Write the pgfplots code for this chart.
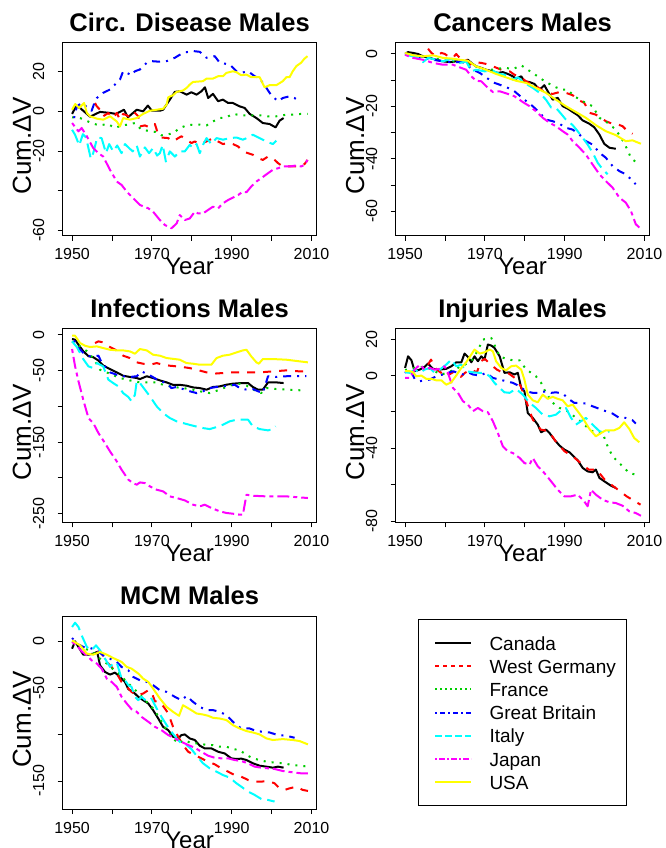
\documentclass[border=0pt]{standalone}
\usepackage{fontspec}
\setmainfont{Liberation Sans}
\usepackage{pgfplots}
\pgfplotsset{compat=1.18}
\definecolor{gthree}{RGB}{0,205,0}
\definecolor{rred}{RGB}{255,0,0}
\definecolor{rblue}{RGB}{0,0,255}
\definecolor{rcyan}{RGB}{0,255,255}
\definecolor{rmag}{RGB}{255,0,255}
\definecolor{ryel}{RGB}{255,255,0}
\newcommand\legimg[2]{%
 \pgfpathmoveto{\pgfpointorigin}\pgfpathlineto{\pgfpoint{43.3pt}{0pt}}\pgfusepath{discard}%
 \pgfsetstrokecolor{#1}\pgfsetlinewidth{2pt}\pgfsetdash{#2}{0pt}\pgfsetbuttcap
 \pgfpathmoveto{\pgfpoint{7.3pt}{-0.2pt}}\pgfpathlineto{\pgfpoint{43.3pt}{-0.2pt}}\pgfusepath{stroke}}
\pgfplotsset{
 can/.style={black, line width=2pt, solid},
 wg/.style={rred, line width=2pt, dash pattern=on 8pt off 8pt},
 fr/.style={gthree, line width=2pt, dash pattern=on 2pt off 6pt},
 gb/.style={rblue, line width=2pt, dash pattern=on 2pt off 6pt on 8pt off 6pt},
 it/.style={rcyan, line width=2pt, dash pattern=on 14pt off 6pt},
 jp/.style={rmag, line width=2pt, dash pattern=on 4pt off 4pt on 12pt off 4pt},
 us/.style={ryel, line width=2pt, solid},
 panel/.style={scale only axis, width=254.2pt,
  xmin=1947.6, xmax=2011.3,
  axis line style={line width=0.9pt},
  tick align=outside, tick pos=left, major tick length=5pt,
  tick style={black, line width=0.9pt},
  xtick={1950,1960,1970,1980,1990,2000,2010},
  xticklabels={1950,{},1970,{},1990,{},2010},
  xticklabel style={font=\fontsize{16}{16}\selectfont, anchor=base, yshift=-19pt},
  yticklabel style={font=\fontsize{16}{16}\selectfont, rotate=90, anchor=base, yshift=13.4pt},
  every axis title/.style={at={(axis description cs:0.5,1)}, anchor=base, yshift=11.3pt, font=\bfseries\fontsize{25.5}{25.5}\selectfont},
  every axis x label/.style={at={(axis description cs:0.5,0)}, anchor=base, yshift=-39pt, font=\fontsize{24}{24}\selectfont},
  every axis y label/.style={at={(axis description cs:0,0.465)}, rotate=90, anchor=base, yshift=31.5pt, font=\fontsize{26}{26}\selectfont},
  xlabel={Year}, ylabel={Cum.ΔV},
  every axis plot/.append style={line join=round},
 },
}
\begin{document}
\begin{tikzpicture}
\useasboundingbox (0,0) rectangle (666pt,848pt);
% ---------- Panel 1
\begin{axis}[panel, at={(62.5pt,612.3pt)}, anchor=south west, height=193pt,
 ymin=-62.7, ymax=34.6, ytick={-60,-40,-20,0,20}, yticklabels={-60,{},-20,0,20},
 title={Circ. Disease Males}]
\addplot[can] coordinates {(1950,-1.3)(1951,2.5)(1952,1.7)(1954.5,-2.7)(1957,-0.3)(1959.5,-0.8)(1961,-1.3)(1963,0.8)(1964,-3)(1966.2,0.8)(1967.8,0)(1969,2.9)(1970,0.3)(1972,0.3)(1972.8,0.8)(1974.5,5.9)(1975.75,9.8)(1977,10.1)(1978.7,8.4)(1979.9,9.6)(1981.2,8.4)(1982.4,10.1)(1983.3,12.1)(1984.1,6.7)(1985.3,8.8)(1986.6,5.1)(1987.8,5.9)(1989.1,4.2)(1990.3,4.2)(1992,2.5)(1993.25,1.7)(1994.5,-1.3)(1996.2,-3.4)(1997.8,-5.9)(1999.5,-6.4)(2001,-8.1)(2002,-4.7)(2003,-3.4)};
\addplot[wg] coordinates {(1955.75,4.2)(1956.2,2.5)(1957,0.8)(1957.8,-2.5)(1959.1,-0.8)(1960,-3.4)(1960.75,-2)(1961.2,-0.8)(1962,-4.2)(1962.8,-1.3)(1963.7,-2)(1964.9,-3.4)(1965.75,-0.8)(1966.6,-2.5)(1967,-7.6)(1968.25,-7.1)(1969.5,-8.1)(1970.75,-6.4)(1971.6,-11.8)(1972.4,-13.2)(1974.1,-13.5)(1975.3,-15.2)(1976.6,-13.5)(1977.4,-12.6)(1978.7,-14.3)(1979.9,-16)(1980.75,-15.2)(1982,-16.5)(1983.7,-15.2)(1985.3,-13.5)(1986.6,-15.2)(1987.8,-16.5)(1989.1,-16)(1990.3,-16.5)(1991.6,-17.7)(1992.8,-20.2)(1994.1,-21.1)(1995.3,-21.9)(1996.6,-23.6)(1997.8,-24.5)(1999.1,-22.8)(2000.3,-23.6)(2001.6,-26.1)(2002.8,-27.8)(2004.5,-27.8)(2005.75,-27.8)(2007,-27.8)(2008.25,-26.6)(2009,-24.5)};
\addplot[fr] coordinates {(1950,-3)(1952,-3.4)(1954.9,-5.9)(1956.8,-7.1)(1959,-6.4)(1960.75,-8.4)(1962.4,-7.1)(1964,-6.7)(1965.75,-5.9)(1967.4,-9.3)(1969,-9.8)(1971.2,-10.5)(1972.4,-12.1)(1973.7,-11.8)(1975.3,-11)(1977,-8.4)(1978.7,-7.1)(1980.3,-6.7)(1982,-6.7)(1983.7,-7.1)(1985.3,-5.1)(1987,-3.4)(1988.7,-3)(1990.3,-1.3)(1992.4,-2)(1994.5,-2)(1997,-2)(1999,-2.5)(2001.2,-2.5)(2003.7,-1.7)(2005.3,-1.7)(2007.4,-1.3)(2009,-1.3)};
\addplot[gb] coordinates {(1950.5,-3.4)(1951.2,2.5)(1952.4,4.2)(1954.9,0.3)(1955.75,5.1)(1956.2,6.7)(1957.8,9.3)(1959.5,11)(1960.75,13.5)(1962,16)(1962.8,20.2)(1963.7,19.4)(1964.9,18.2)(1965.75,20.2)(1967,21.1)(1968.7,24.5)(1969.9,25.3)(1972,25)(1973.7,25.3)(1975.75,27)(1977.8,29.5)(1980.3,30.4)(1982,30)(1983.7,27)(1985.75,27.8)(1987,24.5)(1989.5,23.6)(1991.2,20.2)(1992.4,19.4)(1994.1,20.2)(1995.75,17.7)(1997,16.5)(1998.7,11.8)(1999.9,8.1)(2001.6,5.1)(2002.8,6.7)(2004.5,7.6)(2005.75,6.7)(2007,5.1)};
\addplot[it] coordinates {(1950,-9.3)(1950.75,-11.8)(1951.8,-17.2)(1952.7,-11.5)(1953.5,-13.2)(1954.7,-23.9)(1955.3,-21.1)(1956.3,-13.2)(1957.4,-13.5)(1958.5,-21.1)(1959.3,-16.5)(1960.3,-20.2)(1961.3,-17.2)(1962.4,-21.1)(1963.25,-16.5)(1964.1,-18.2)(1965.2,-20.2)(1966.2,-17.2)(1967,-22.8)(1968.25,-18.2)(1969.3,-21.1)(1970.3,-18.5)(1971.3,-22.3)(1972,-21.1)(1972.7,-16.9)(1973.5,-25.3)(1974.5,-20.2)(1975.75,-22.8)(1977,-20.2)(1978.25,-20.2)(1979.5,-16.9)(1980.3,-18.5)(1981.2,-16.5)(1982,-21.1)(1982.8,-16.9)(1983.7,-13.5)(1984.9,-16.5)(1986.2,-13.5)(1987.8,-14.3)(1989.5,-13.5)(1991.2,-13.2)(1992.8,-14.3)(1994.1,-13.2)(1995.3,-11.8)(1997,-13.5)(1998.7,-15.2)(2000.3,-16.5)(2001.2,-14.8)};
\addplot[jp] coordinates {(1950,-5.9)(1951.6,-10.1)(1952.4,-8.4)(1953.7,-12.6)(1955.3,-18.5)(1956.6,-21.1)(1957.8,-22.8)(1959.5,-29.5)(1961.2,-35.4)(1962.4,-37.1)(1963.7,-40.5)(1965.3,-43.8)(1967,-47.2)(1969.1,-48.9)(1970.3,-50.6)(1972,-54.8)(1973.25,-57.3)(1974.9,-59)(1976.2,-56.5)(1977,-52.3)(1978.25,-54.8)(1979.5,-54)(1980.75,-50.6)(1981.6,-51.5)(1982.8,-51.5)(1984.1,-49.7)(1985.3,-48.1)(1986.6,-48.9)(1987.8,-46.4)(1989.1,-44.7)(1990.3,-43.5)(1991.6,-42.2)(1992.8,-40.5)(1993.7,-40.8)(1994.9,-37.9)(1996.2,-35.4)(1997.4,-33.7)(1999.1,-31.2)(2000.3,-29.5)(2001.6,-28.7)(2002.8,-27.8)(2004.5,-27.8)(2006.2,-27.3)(2007.4,-27.8)(2008.25,-27)(2009,-24.5)};
\addplot[us] coordinates {(1950,0.8)(1950.8,3.7)(1951.8,1.7)(1953,4.2)(1953.7,-0.8)(1954.5,-2.5)(1956.2,-3.7)(1957.8,-4.2)(1959.5,-2.5)(1961.2,-5.1)(1962,-7.6)(1962.8,-3.4)(1964.5,-4.2)(1966.2,-3.4)(1967.8,-1.3)(1969.5,0.3)(1971.2,0.8)(1972.8,1.3)(1973.7,3.4)(1974.1,7.1)(1975.3,8.1)(1976.2,9.8)(1977.8,10.5)(1978.7,11.8)(1979.5,13.5)(1980.3,14.8)(1982.8,15.2)(1983.7,16.5)(1985.3,16.5)(1986.6,17.7)(1987.8,17.7)(1988.7,19.4)(1990.3,20.2)(1991.2,19.7)(1992.4,18.2)(1993.7,18.5)(1994.9,17.2)(1997,17.2)(1998.25,12.1)(1999.5,13.2)(2001.2,13.2)(2002.8,15.2)(2003.7,17.2)(2004.5,17.2)(2005.3,20.2)(2006.2,22.8)(2007.4,24.5)(2008.25,26.6)(2009,27.8)};
\end{axis}
% ---------- Panel 2
\begin{axis}[panel, at={(395.5pt,612.3pt)}, anchor=south west, height=193pt,
 ymin=-69.3, ymax=4.2, ytick={-60,-50,-40,-30,-20,-10,0}, yticklabels={-60,{},-40,{},-20,{},0},
 title={Cancers Males}]
\addplot[can] coordinates {(1950,0)(1950.75,0.6)(1952,0.3)(1953.25,-0.1)(1954.5,-1)(1956.2,-1.6)(1957.8,-2.3)(1959.5,-2.9)(1961.2,-3.2)(1962.8,-2.9)(1964.5,-3.2)(1965.75,-2.3)(1966.6,-3.5)(1967.8,-4.8)(1969.1,-5.4)(1970.3,-6.1)(1972,-6.7)(1973.25,-7.3)(1974.5,-7)(1975.75,-7.7)(1977,-8.6)(1977.8,-9.5)(1979.1,-8.6)(1979.9,-10.5)(1981.2,-10.8)(1982.4,-11.5)(1983.7,-13.7)(1984.9,-12)(1985.75,-14.3)(1987,-17.5)(1988.25,-16.8)(1989.5,-20)(1990.75,-20.9)(1992,-22.2)(1993.25,-23.4)(1994.5,-25.4)(1996.2,-26.7)(1997.4,-28)(1998.7,-30.8)(1999.9,-34.3)(2001.2,-35.8)(2002.8,-36.2)};
\addplot[wg] coordinates {(1955.75,1.9)(1956.6,0.3)(1957.8,-1)(1959.1,0.3)(1960,-0.1)(1960.75,-1)(1962,-1.6)(1962.8,-0.1)(1963.7,-1.6)(1964.9,-1.4)(1966.2,-4.2)(1967.4,-3.2)(1969.1,-3.5)(1970.3,-3.9)(1972,-4.8)(1974.1,-6.1)(1976.2,-6.7)(1977.4,-8)(1978.7,-8.6)(1980.3,-10.5)(1982.8,-12.4)(1985.3,-14.9)(1987,-15.3)(1988.7,-14.6)(1990.3,-14.9)(1992,-15.8)(1993.25,-17.5)(1994.9,-18.7)(1996.2,-22.5)(1997.8,-23.2)(1999.1,-24.4)(2000.3,-25.7)(2002,-26.7)(2003.25,-26.9)(2004.5,-27.6)(2005.75,-29.5)(2007,-30.5)};
\addplot[fr] coordinates {(1950,0)(1952,-0.6)(1955,-1.3)(1958,-2)(1961,-2.8)(1964,-3)(1966,-4)(1968,-5)(1970.3,-6.1)(1972,-6.1)(1973.25,-5.7)(1975.3,-5.4)(1977,-5.9)(1979.1,-4.4)(1980.75,-6.1)(1982.8,-8.2)(1985.3,-10.8)(1987.8,-12.8)(1989.5,-13.7)(1990.75,-13.7)(1992.4,-16.2)(1994.5,-18.1)(1997,-20)(1998.7,-24.4)(2000.75,-26.3)(2002.8,-28.9)(2004.9,-33.9)(2006.6,-39.6)(2008.25,-41.9)};
\addplot[gb] coordinates {(1950,0)(1952,-1)(1954.5,-1.6)(1957,-2.3)(1959.5,-2.9)(1962,-3.2)(1964.5,-3.2)(1967,-6.1)(1968.7,-7.3)(1970.75,-9.5)(1972.4,-11.1)(1973.7,-11.8)(1975.75,-13)(1977.4,-14.3)(1979.9,-17.5)(1982,-20)(1983.7,-22.5)(1985.3,-25.1)(1987,-25.7)(1988.7,-26.7)(1990.3,-28.2)(1992,-28.9)(1993.7,-30.8)(1995.3,-33.3)(1997,-34.6)(1998.7,-37.7)(2000.3,-39.6)(2002,-42.8)(2003.7,-44.7)(2005.3,-45.9)(2006.6,-47.8)(2007.8,-49.7)};
\addplot[it] coordinates {(1950,-0.4)(1952,-1)(1953.7,-1.6)(1954.5,-3.2)(1955.75,-1.6)(1957.8,-2.3)(1959.5,-2.9)(1961.6,-1.9)(1963.7,-3.5)(1965.3,-2.9)(1966.6,-6.7)(1967.8,-6.1)(1969.9,-6.7)(1972,-6.5)(1973.7,-7.7)(1975.75,-8.2)(1977,-9.9)(1978.25,-9)(1979.9,-11.1)(1982,-13)(1983.7,-14.9)(1985.3,-17.5)(1986.6,-20.5)(1987.8,-20.6)(1989.1,-22.9)(1990.3,-25.1)(1992,-27.2)(1993.25,-29.5)(1994.5,-32)(1995.75,-34.6)(1997,-37.7)(1998.25,-41.5)(1999.5,-44)(2000.75,-45.9)};
\addplot[jp] coordinates {(1950,-0.4)(1952,-1.6)(1954.5,-2.3)(1957,-3.5)(1959.5,-4.2)(1962,-4.2)(1963.7,-5.2)(1965.3,-6.1)(1966.6,-8.6)(1967.8,-10.3)(1969.1,-10.5)(1970.75,-13)(1972,-14.6)(1973.7,-14.3)(1975.75,-15.3)(1977.4,-16.2)(1979.5,-18.4)(1981.2,-20)(1982.8,-21.9)(1984.5,-24.4)(1986.2,-26.3)(1987.8,-27.6)(1989.5,-29.5)(1990.75,-30.8)(1992,-33.3)(1993.7,-35.8)(1995.3,-38.4)(1997,-42.2)(1998.7,-45.9)(2000.3,-48.5)(2002,-51)(2003.7,-54.8)(2005.3,-56.7)(2006.6,-59.9)(2007.8,-64.9)(2008.7,-66.2)};
\addplot[us] coordinates {(1950,0.3)(1952,-0.6)(1954.5,-1)(1957,-0.6)(1959.5,-1.6)(1962,-1.9)(1963.7,-2.3)(1965.75,-2.7)(1967.8,-4.8)(1970.3,-6.1)(1972.8,-7.7)(1975.3,-9)(1977.8,-10.3)(1980.3,-11.1)(1982.8,-13)(1985.3,-14.9)(1987.8,-17.5)(1990.3,-20)(1992.8,-22.2)(1995.3,-24.4)(1997.8,-27.2)(2000.3,-29.5)(2002.8,-31)(2005.3,-33.3)(2007,-33)(2009.1,-34.3)};
\end{axis}
% ---------- Panel 3
\begin{axis}[panel, at={(62.5pt,325.7pt)}, anchor=south west, height=193.8pt,
 ymin=-262, ymax=8.7, ytick={-250,-200,-150,-100,-50,0}, yticklabels={-250,{},-150,{},-50,0},
 title={Infections Males}]
\addplot[can] coordinates {(1950,-6)(1950.75,-6.9)(1951.6,-14)(1952.8,-23)(1954.1,-30)(1955.3,-31.4)(1956.6,-36)(1957.8,-43)(1959.5,-48)(1961.2,-52.6)(1962.8,-57.3)(1964.5,-59)(1966.2,-60.5)(1967,-62)(1968.7,-58)(1970.3,-60.5)(1972,-63.8)(1973.7,-66.6)(1975.3,-70)(1977,-70)(1978.7,-71.2)(1980.3,-73.6)(1982,-74.5)(1983.7,-76.8)(1985.3,-73)(1987,-72.2)(1988.7,-69.8)(1990.3,-68.4)(1992.4,-67.5)(1994.1,-67.5)(1995.3,-73)(1996.6,-76.8)(1997.8,-76.8)(1999.1,-66.6)(2001.2,-66.6)(2003,-67.5)};
\addplot[wg] coordinates {(1955.75,-11.6)(1956.6,-9.3)(1957.8,-10.7)(1959.5,-17.2)(1961.2,-21.9)(1962.8,-29.3)(1964.5,-32.6)(1966.2,-38.6)(1967.8,-40.5)(1969.5,-41.9)(1971.2,-39.6)(1972.8,-41.9)(1974.5,-43.3)(1976.2,-44.2)(1977.8,-45.2)(1979.5,-46.6)(1981.2,-48.9)(1983.7,-52.6)(1985.3,-54.5)(1987.8,-53.5)(1990.3,-52.6)(1993.7,-52.6)(1997,-52.6)(2000.3,-51.2)(2003.7,-49.8)(2007,-51.2)(2008.7,-51.2)};
\addplot[fr] coordinates {(1950,-9.3)(1952,-16.3)(1953.7,-23)(1955.3,-32.6)(1957,-48.9)(1959.5,-54.5)(1962,-60.5)(1964.5,-63.8)(1967,-66.6)(1969.5,-66.6)(1971.2,-66.6)(1972.8,-70)(1975.3,-73)(1977.8,-74.5)(1980.3,-76.8)(1982,-79)(1984.5,-81.5)(1987,-76.8)(1989.5,-71)(1992,-68.4)(1993.7,-71)(1996.2,-79)(1997.4,-81.5)(1998.7,-74.5)(2001.2,-75.9)(2004.5,-76.8)(2007.4,-77.7)};
\addplot[gb] coordinates {(1950.5,-8)(1951.2,-16.3)(1952,-20.5)(1953.25,-28)(1954.5,-30)(1955.75,-30)(1956.6,-29.3)(1957.4,-38.6)(1959.5,-52.6)(1961.2,-55.9)(1962.8,-58)(1964.5,-59)(1966.2,-58)(1967.4,-51.2)(1968.7,-54.5)(1969.9,-58)(1972,-65)(1973.7,-67.5)(1974.9,-74.5)(1976.2,-73)(1977.8,-75.9)(1979.5,-79)(1981.2,-81.5)(1982.8,-79)(1984.5,-74.5)(1986.2,-73)(1987.8,-72.2)(1989.5,-71.2)(1990.75,-69.8)(1992.4,-75.9)(1994.1,-76.8)(1995.3,-75.9)(1996.6,-79)(1997.8,-81.5)(1999.1,-58)(2001.2,-59)(2003.7,-58)(2006.2,-58)(2008.7,-58)};
\addplot[it] coordinates {(1950,-9.3)(1951.2,-17.2)(1952.8,-34)(1954.1,-44.2)(1955.3,-46.6)(1956.2,-39.6)(1957,-41.9)(1957.8,-44.2)(1959.1,-62.8)(1960.3,-67.5)(1961.6,-72.2)(1962.8,-81.5)(1964.1,-87)(1964.9,-93)(1965.75,-83.8)(1966.2,-65)(1967,-67.5)(1968.25,-76.8)(1969.5,-86.1)(1971.2,-100)(1972.8,-109.4)(1974.5,-116.4)(1976.2,-121)(1977.8,-123.4)(1980.3,-127.1)(1982.8,-130.4)(1984.5,-131.8)(1986.2,-129)(1987.8,-125.7)(1989.5,-121)(1991.2,-118.7)(1992.8,-118.7)(1994.1,-118.7)(1995.3,-128)(1997,-131.8)(1999.1,-133.6)(2000.3,-131.8)(2001,-128)};
\addplot[jp] coordinates {(1950,-20)(1950.75,-44)(1951.6,-65)(1952.8,-90.8)(1954.1,-116.4)(1955.3,-123.4)(1956.6,-137.3)(1957.8,-147.6)(1959.5,-162.9)(1961.2,-176.9)(1962.4,-188.5)(1964.1,-202.5)(1965.3,-207.2)(1966.2,-209.5)(1967,-206.3)(1968.25,-207.2)(1969.5,-211.8)(1971.2,-216.5)(1972.8,-218.8)(1974.5,-225.8)(1976.2,-228.1)(1978.25,-231.4)(1980.3,-237.4)(1982,-239.8)(1983.25,-237.4)(1984.9,-242)(1987,-246.7)(1988.7,-249)(1990.3,-250)(1992,-251.4)(1992.8,-251.4)(1993.7,-223.5)(1995.3,-224.9)(1998.7,-225.8)(2003.7,-225.8)(2009.1,-228.1)};
\addplot[us] coordinates {(1950,-1.4)(1950.75,-1.4)(1952,-11.6)(1953.25,-15.4)(1954.5,-17.2)(1956.2,-16.3)(1957.8,-18.6)(1959.5,-21)(1961.2,-21.9)(1962.8,-21.9)(1964.5,-23.3)(1965.75,-26.5)(1967,-20)(1968.7,-21.9)(1970.3,-27.9)(1972,-29.3)(1973.7,-32.6)(1975.75,-34)(1977,-34.9)(1978.7,-39.6)(1980.3,-40.5)(1982,-41.9)(1983.7,-41.9)(1984.9,-41.9)(1986.2,-32.6)(1987.8,-29.3)(1989.5,-27.9)(1991.2,-24.7)(1992.8,-21.9)(1993.7,-21)(1994.9,-30.3)(1996.2,-38.6)(1996.8,-40.5)(1997.8,-34)(2000.3,-34)(2003.7,-34.9)(2007,-37.2)(2009.1,-38.6)};
\end{axis}
% ---------- Panel 4
\begin{axis}[panel, at={(395.5pt,325.7pt)}, anchor=south west, height=193.8pt,
 ymin=-80.7, ymax=25.9, ytick={-80,-60,-40,-20,0,20}, yticklabels={-80,{},-40,{},0,20},
 title={Injuries Males}]
\addplot[can] coordinates {(1950,4.2)(1950.75,10.6)(1951.6,8.4)(1952.4,2.4)(1953.7,3.3)(1954.9,4.8)(1955.75,6.6)(1957,3.7)(1958.7,3.3)(1960.3,3.7)(1961.6,5.1)(1962.8,7.3)(1964.1,7.3)(1964.9,12.1)(1965.75,10.3)(1966.6,7.3)(1967.4,10.6)(1968.25,7.9)(1969.1,10.6)(1969.9,8.8)(1970.75,17.1)(1971.6,16.5)(1972.4,15.2)(1973.7,10.6)(1974.9,1.5)(1976.2,1.8)(1977.4,0.6)(1978.25,1.5)(1979.1,-6.8)(1979.9,-8.6)(1980.75,-20.6)(1982,-23.3)(1983.25,-27)(1984.1,-31.2)(1985.3,-29.7)(1986.2,-31.6)(1987.4,-35.2)(1988.7,-38.5)(1989.9,-40.7)(1991.2,-42.2)(1992.4,-44.8)(1993.25,-46.6)(1994.5,-50.8)(1995.75,-52.7)(1997,-53.2)(1997.8,-51.7)(1998.7,-56.3)(2000.3,-58.7)(2001.6,-60.6)(2002.8,-61.8)};
\addplot[wg] coordinates {(1955.75,6)(1956.5,8.8)(1957.5,4.2)(1959,1.5)(1960,3.3)(1961,0.5)(1962,1.8)(1963,0)(1964,-0.7)(1965,1.5)(1966.5,3.3)(1968,1.8)(1969,7.9)(1970,9.2)(1971,7)(1972,5.1)(1973,3.3)(1974.5,1.5)(1976,1.1)(1977.5,-1.3)(1979,-5.9)(1980.5,-15)(1982,-24.2)(1984,-29.7)(1986,-30.6)(1988,-37)(1990,-41.7)(1992,-44.4)(1994,-48.1)(1996,-51.7)(1998,-51.7)(2000,-57.2)(2002,-60.6)(2003,-62.2)(2005.5,-66.4)(2009,-71)};
\addplot[fr] coordinates {(1950,3)(1952,4)(1955,5)(1957,3)(1959,0.5)(1961,2)(1963,4)(1965,6)(1967,9)(1968.25,14)(1969.5,19.8)(1971.6,20.7)(1973.7,10.6)(1975.3,9.2)(1977,8.4)(1978.7,8.4)(1980.3,3.5)(1982.8,-0.4)(1984.1,-4)(1985.3,-9.5)(1987,-15)(1988.7,-17.8)(1989.9,-18.7)(1991.2,-20.2)(1992.8,-23.3)(1994.5,-26)(1996.2,-29.7)(1997.8,-31.6)(1999.5,-31.6)(2000.75,-38.9)(2002,-44.4)(2004.5,-49.9)(2006.2,-53.6)(2007.8,-54.5)};
\addplot[gb] coordinates {(1950,1.5)(1950.75,3.3)(1951.6,1.8)(1952.4,-1.8)(1953.7,-3.1)(1954.9,-2.6)(1956.2,-2.2)(1957.8,-0.4)(1959.5,0.6)(1960.75,1.5)(1962,2.4)(1963.25,1.5)(1964.5,0.6)(1965.75,1.8)(1967,0.6)(1968.7,0)(1970.3,1.5)(1972,-1.3)(1973.7,-2.2)(1975.3,-3.1)(1977,-4)(1978.7,-5.9)(1980.3,-8.6)(1982,-9.5)(1983.7,-9.5)(1985.3,-8.6)(1986.6,-9.5)(1987.8,-9.2)(1989.5,-9.9)(1991.2,-13.2)(1992.4,-15)(1993.7,-15)(1995.3,-15.4)(1997,-16.9)(1998.7,-18.3)(2000.3,-19.6)(2002,-20.9)(2003.7,-23.3)(2005.3,-23.3)(2007,-24.6)(2007.8,-26.4)};
\addplot[it] coordinates {(1950,1.8)(1951.2,1.5)(1952.4,3.3)(1953.7,1.5)(1954.9,3.3)(1956.2,4.2)(1957.4,1.5)(1958.7,3.3)(1960.3,6)(1961.6,8.8)(1962.8,5.1)(1964.1,6)(1965.3,2.4)(1967,1.8)(1968.7,1.5)(1969.9,1.5)(1971.2,-0.4)(1972.4,-4)(1973.7,-6.8)(1974.9,-9.2)(1976.2,-9.5)(1977.8,-7.3)(1979.5,-10.5)(1981.2,-15)(1982.8,-17.8)(1984.5,-21.5)(1986.2,-22.4)(1987.8,-21.5)(1989.1,-19.1)(1990.3,-17.8)(1991.6,-23.3)(1992.8,-27)(1994.1,-25.1)(1995.3,-23.3)(1997,-27)(1998.7,-30.6)(2000.3,-31.6)(2001.2,-30.6)};
\addplot[jp] coordinates {(1950,-1.3)(1951.2,-1.3)(1952.4,3.3)(1953.7,6)(1954.9,3.3)(1956.2,4.2)(1957.4,3.3)(1958.7,3.7)(1959.9,5.1)(1960.75,1.5)(1962,-6.8)(1963.25,-9.5)(1964.5,-14.1)(1965.75,-16)(1967,-19.6)(1968.25,-17.8)(1969.5,-19.6)(1970.75,-20.2)(1972,-25.1)(1973.25,-31.6)(1974.5,-38.9)(1975.75,-41.7)(1977,-42.6)(1978.7,-45.3)(1979.9,-48.1)(1981.2,-49)(1982,-45.3)(1983.25,-49.9)(1984.9,-53.6)(1986.6,-58.2)(1988.25,-62.8)(1989.9,-66.4)(1991.6,-66.4)(1993.25,-65.5)(1994.9,-69.2)(1995.75,-71.9)(1996.6,-62.8)(1997.8,-65.5)(1999.5,-68.3)(2001.2,-69.7)(2002.8,-70.1)(2004.5,-71.6)(2006.2,-74.7)(2007.8,-75.6)(2009.1,-77.1)};
\addplot[us] coordinates {(1950,2.4)(1951.2,2.4)(1952,1.8)(1952.8,-0.4)(1954.1,0)(1955.3,-1.8)(1956.6,-1.8)(1957.8,-2.6)(1959.1,-2.6)(1960.3,-5)(1961.6,-3.7)(1962.8,0)(1964.1,4.2)(1965.3,7.3)(1966.6,11.6)(1967.4,14.3)(1968.7,12.1)(1969.9,12.8)(1971.2,14.3)(1972,13.4)(1972.8,7.9)(1974.1,4.2)(1975.3,2.9)(1976.6,5.1)(1977.8,5.5)(1979.1,3.3)(1979.9,-2.2)(1980.75,-10.5)(1982,-13.6)(1983.25,-14.7)(1984.5,-10.5)(1985.75,-12.8)(1987,-11.7)(1988.25,-12.8)(1989.5,-13.6)(1990.75,-16.9)(1992,-16)(1993.25,-19.6)(1994.5,-23.3)(1996.2,-29.4)(1997.8,-33.4)(1999.1,-31.6)(2000.3,-30.1)(2002.4,-30.1)(2003.7,-28.8)(2004.9,-25.7)(2006.2,-29.4)(2007.4,-34.3)(2008.7,-36.7)};
\end{axis}
% ---------- Panel 5
\begin{axis}[panel, at={(62.5pt,39pt)}, anchor=south west, height=192.7pt,
 ymin=-180.1, ymax=26.9, ytick={-150,-100,-50,0}, yticklabels={-150,{},-50,0},
 title={MCM Males}]
\addplot[can] coordinates {(1950,-7.9)(1950.75,0)(1951.6,-6)(1952.8,-14.3)(1954.1,-14.3)(1955.3,-13.2)(1956.3,-11.4)(1957,-25.7)(1958.25,-32.9)(1959.5,-35.7)(1960.75,-33.6)(1962,-38.2)(1963.25,-43.6)(1964.1,-51.4)(1965.3,-54.3)(1966.6,-59.6)(1967.8,-63.2)(1969.1,-66.8)(1970.3,-73.9)(1971.6,-82.9)(1972.8,-91.8)(1974.1,-95.4)(1975.3,-102.5)(1976.6,-104.3)(1977.4,-100.7)(1978.25,-100)(1979.5,-104.3)(1980.75,-106)(1982,-112.1)(1983.25,-115)(1984.9,-115)(1986.6,-118.6)(1988.25,-120.4)(1989.9,-125.7)(1991.2,-126.4)(1992.4,-126)(1993.7,-127.5)(1995.3,-131)(1997,-133.6)(1998.7,-134.6)(2000.3,-135.7)(2001.6,-134.6)(2003,-135.7)};
\addplot[wg] coordinates {(1956.3,-10.7)(1957.4,-13.2)(1958.7,-22.1)(1959.9,-27.5)(1961.2,-34.6)(1962.4,-43.6)(1963.7,-48.9)(1964.9,-54.3)(1966.2,-57.9)(1967.8,-56.1)(1969.1,-52.5)(1969.9,-54.3)(1970.75,-64.3)(1972,-65)(1973.25,-72.1)(1974.1,-77.5)(1975.3,-91.8)(1976.6,-102.5)(1977.8,-111.4)(1979.1,-118.6)(1980.75,-122.1)(1982.4,-125.7)(1984.1,-129.3)(1985.75,-132.1)(1987.4,-136.4)(1989.1,-140)(1990.75,-143.6)(1992.4,-145.4)(1994.1,-148.9)(1995.75,-150.7)(1997.4,-150.7)(1999.1,-150)(2000.75,-152.5)(2002,-157.9)(2003.25,-159.6)(2004.5,-157.9)(2006.2,-156.1)(2007.8,-159.6)(2009.1,-160.7)};
\addplot[fr] coordinates {(1950,0)(1952,-4.3)(1953.7,-8.6)(1955.3,-12.1)(1957,-18.6)(1958.7,-23.9)(1960.3,-30)(1962,-35.7)(1963.7,-43.6)(1965.3,-50)(1967,-57.1)(1968.7,-65)(1970.3,-72.1)(1972,-82.9)(1973.7,-95.4)(1975.3,-104.3)(1976.6,-109.6)(1978.25,-106)(1979.9,-109.6)(1982,-109.6)(1983.7,-111.4)(1985.3,-111.4)(1987,-113.2)(1988.7,-113.2)(1990.3,-115.7)(1992,-116.8)(1993.7,-122.1)(1995.3,-125.7)(1997,-127.5)(1998.7,-129.3)(2000.3,-130)(2002.8,-131)(2005.3,-132.9)(2007.4,-133.6)(2009.1,-134.6)};
\addplot[gb] coordinates {(1950,3.6)(1951.2,-2.5)(1952.8,-6)(1954.5,-7.1)(1956.2,-9.6)(1957.8,-15)(1959.5,-18.6)(1961.2,-22.1)(1962.4,-27.5)(1964.1,-31.1)(1965.3,-38.2)(1967,-41.8)(1968.7,-43.6)(1970.3,-47.1)(1972,-52.5)(1973.7,-54.3)(1975.75,-59.6)(1977.4,-63.2)(1978.7,-58.6)(1980.3,-65)(1982,-70.4)(1983.7,-73.9)(1985.3,-73.9)(1987,-75.7)(1988.7,-79.3)(1990.3,-86.4)(1992.4,-93.6)(1994.5,-93.6)(1996.2,-96.4)(1997.8,-97.1)(1999.5,-97.9)(2001.6,-100.7)(2003.7,-101.4)(2005.75,-103.6)};
\addplot[it] coordinates {(1950,15.4)(1950.75,20)(1951.6,15.4)(1952.4,6.4)(1953.7,-6)(1954.9,-9.6)(1956,-4.3)(1957,-9.6)(1958.25,-18.6)(1959.5,-27.5)(1960.3,-23.9)(1961.2,-22.9)(1962.4,-40)(1963.25,-41.8)(1964.1,-47.1)(1964.9,-48.9)(1965.75,-59.6)(1966.6,-63.2)(1967.4,-59.6)(1968.7,-64.3)(1969.9,-61.4)(1971.2,-72.1)(1972.4,-81.1)(1973.7,-90)(1974.9,-97.1)(1976.2,-104.3)(1977.4,-109.6)(1978.7,-111.4)(1979.9,-115.7)(1981.2,-122.9)(1982.8,-131)(1984.5,-136.4)(1986.2,-140)(1987.8,-143.6)(1989.5,-146.4)(1991.2,-152.5)(1992.4,-156.1)(1994.1,-161.4)(1995.75,-165)(1997.4,-169.3)(1999.1,-170.4)(2000.75,-172.1)};
\addplot[jp] coordinates {(1950,-0.7)(1951.2,-4.3)(1952.4,-10.7)(1953.7,-15)(1954.9,-20.4)(1956.2,-23.9)(1957.4,-29.3)(1958.7,-40)(1959.9,-43.6)(1961.2,-48.9)(1962.4,-59.6)(1963.7,-66.8)(1964.9,-72.9)(1966.2,-75.7)(1967.4,-81.1)(1969.1,-86.4)(1970.75,-91.8)(1972.4,-95.4)(1974.1,-100.7)(1975.75,-104.3)(1977.4,-107.9)(1979.1,-111.4)(1980.75,-114.3)(1982.4,-118.6)(1984.1,-122.9)(1985.75,-125)(1987.4,-125.7)(1989.1,-125.7)(1990.75,-127.5)(1992.4,-128.6)(1994.1,-131)(1995.75,-134.6)(1997.4,-135.7)(1999.1,-136.4)(2000.75,-137.1)(2002.8,-139.3)(2005.3,-140.7)(2007.4,-141.8)(2009.1,-141.8)};
\addplot[us] coordinates {(1950,1)(1952,-4.3)(1953.7,-13.2)(1955.3,-14.3)(1957,-11.4)(1958.7,-14.3)(1960.3,-17.9)(1962.4,-22.1)(1963.7,-27.5)(1964.9,-29.3)(1966.6,-34.6)(1967.8,-40)(1969.1,-43.6)(1970.3,-50.7)(1972,-61.4)(1973.7,-70.4)(1975.3,-75.7)(1976.8,-80)(1977.8,-68.6)(1979.5,-72.9)(1981.2,-77.5)(1982.8,-78.6)(1984.1,-80)(1985.3,-82.1)(1987,-82.9)(1988.7,-84.6)(1990.3,-90)(1992,-93.6)(1993.7,-96.4)(1995.3,-97.9)(1997,-100)(1998.7,-104.3)(2000.3,-106)(2002.8,-105)(2005.3,-106)(2007,-107.1)(2009.1,-110.7)};
\end{axis}
% ---------- Legend (the axis frame is the legend box)
\begin{axis}[scale only axis, width=208.4pt, height=185.7pt,
 at={(418.3pt,43pt)}, anchor=south west, xmin=0, xmax=1, ymin=0, ymax=1,
 axis line style={line width=0.9pt}, xtick=\empty, ytick=\empty,
 legend cell align=left,
 legend style={at={(0,1)}, anchor=north west, draw=none, fill=none,
   inner xsep=9.4pt, inner ysep=13.7pt, row sep=4.1pt,
   font=\fontsize{19}{19}\selectfont,
   nodes={inner sep=0pt, text height=17pt, text depth=2.1pt},
   /tikz/every odd column/.append style={column sep=17.3pt}},
]
\addlegendimage{legend image code/.code={\legimg{black}{}}}
\addlegendentry{Canada}
\addlegendimage{legend image code/.code={\legimg{rred}{{4pt}{4pt}}}}
\addlegendentry{West Germany}
\addlegendimage{legend image code/.code={\legimg{gthree}{{2pt}{3pt}}}}
\addlegendentry{France}
\addlegendimage{legend image code/.code={\legimg{rblue}{{2pt}{3pt}{5pt}{3pt}}}}
\addlegendentry{Great Britain}
\addlegendimage{legend image code/.code={\legimg{rcyan}{{7pt}{3pt}}}}
\addlegendentry{Italy}
\addlegendimage{legend image code/.code={\legimg{rmag}{{2pt}{2pt}{6pt}{2pt}}}}
\addlegendentry{Japan}
\addlegendimage{legend image code/.code={\legimg{ryel}{}}}
\addlegendentry{USA}
\end{axis}
\end{tikzpicture}
\end{document}
